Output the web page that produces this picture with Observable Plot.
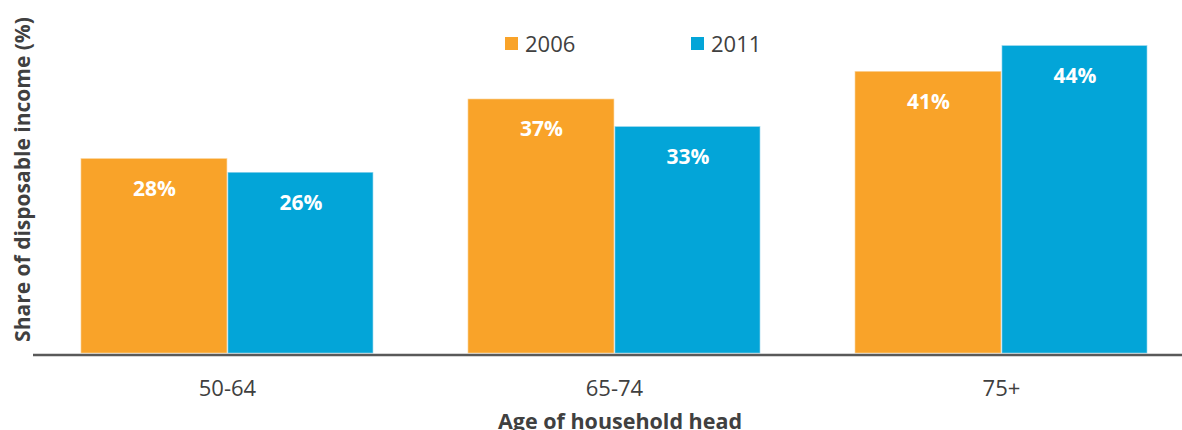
<!DOCTYPE html>
<html>
<head>
<meta charset="utf-8">
<script src="https://cdn.jsdelivr.net/npm/d3@7"></script>
<script src="https://cdn.jsdelivr.net/npm/@observablehq/plot@0.6"></script>
<style>
  html, body { margin: 0; padding: 0; background: #fff; }
  #wrap { position: relative; width: 1182px; height: 430px; font-family: 'Open Sans', sans-serif; }
  .leg { position: absolute; top: 29px; height: 28px; display: flex; align-items: center; font-size: 22px; color: #404040; }
  .sw { width: 13px; height: 13px; margin-right: 7px; }
</style>
</head>
<body>
<div id="wrap"></div>
<script>
const groups = ["50-64", "65-74", "75+"];
const years = ["2006", "2011"];
const share2006 = [28.1, 36.7, 40.7];
const share2011 = [26.1, 32.7, 44.4];
const colors = ["#F9A329", "#03A5D8"];
const yLabel = "Share of disposable income (%)";
const xLabel = "Age of household head";

const rows2006 = groups.map((g, i) => ({group: g, year: years[0], value: share2006[i]}));
const rows2011 = groups.map((g, i) => ({group: g, year: years[1], value: share2011[i]}));
const fmt = d => Math.round(d.value) + "%";

const chart = Plot.plot({
  width: 1182,
  height: 430,
  marginTop: 0,
  marginBottom: 77,
  marginLeft: 33,
  marginRight: 0,
  style: {fontFamily: "'Open Sans', sans-serif", color: "#404040", background: "#fff"},
  x: {domain: groups, paddingInner: 0.2455, paddingOuter: 0.1072, align: 0.578, round: false, axis: null},
  y: {domain: [0, 51], axis: null},
  marks: [
    Plot.barY(rows2006, {x: "group", y: "value", fill: colors[0], insetRight: 146, stroke: "#fcd9a6", strokeWidth: 0.6}),
    Plot.barY(rows2011, {x: "group", y: "value", fill: colors[1], insetLeft: 147, stroke: "#8fd3ec", strokeWidth: 0.6}),
    Plot.text(rows2006, {x: "group", y: "value", text: fmt, dx: -73, dy: 30, fill: "white", fontWeight: "bold", fontSize: 21}),
    Plot.text(rows2011, {x: "group", y: "value", text: fmt, dx: 73.5, dy: 30, fill: "white", fontWeight: "bold", fontSize: 21}),
    Plot.ruleY([0], {stroke: "#595959", strokeWidth: 2.5, dy: 1.5}),
    Plot.axisX({tickSize: 0, tickPadding: 27, fontSize: 22, label: null}),
    Plot.text([yLabel], {frameAnchor: "left", textAnchor: "middle", lineAnchor: "middle", rotate: -90, dx: -10, dy: 2.5, fontWeight: "bold", fontSize: 21, fill: "#404040"}),
    Plot.text([xLabel], {frameAnchor: "bottom", textAnchor: "middle", lineAnchor: "bottom", dx: 12, dy: 75, fontWeight: "bold", fontSize: 21.5, fill: "#404040"})
  ]
});
const wrap = document.getElementById("wrap");
wrap.appendChild(chart);

const legendPos = [505, 691];
years.forEach((y, i) => {
  const item = document.createElement("div");
  item.className = "leg";
  item.style.left = legendPos[i] + "px";
  const sw = document.createElement("span");
  sw.className = "sw";
  sw.style.background = colors[i];
  const t = document.createElement("span");
  t.textContent = y;
  item.appendChild(sw);
  item.appendChild(t);
  wrap.appendChild(item);
});
chart.style.position = "absolute";
chart.style.left = "0";
chart.style.top = "0";
</script>
</body>
</html>
